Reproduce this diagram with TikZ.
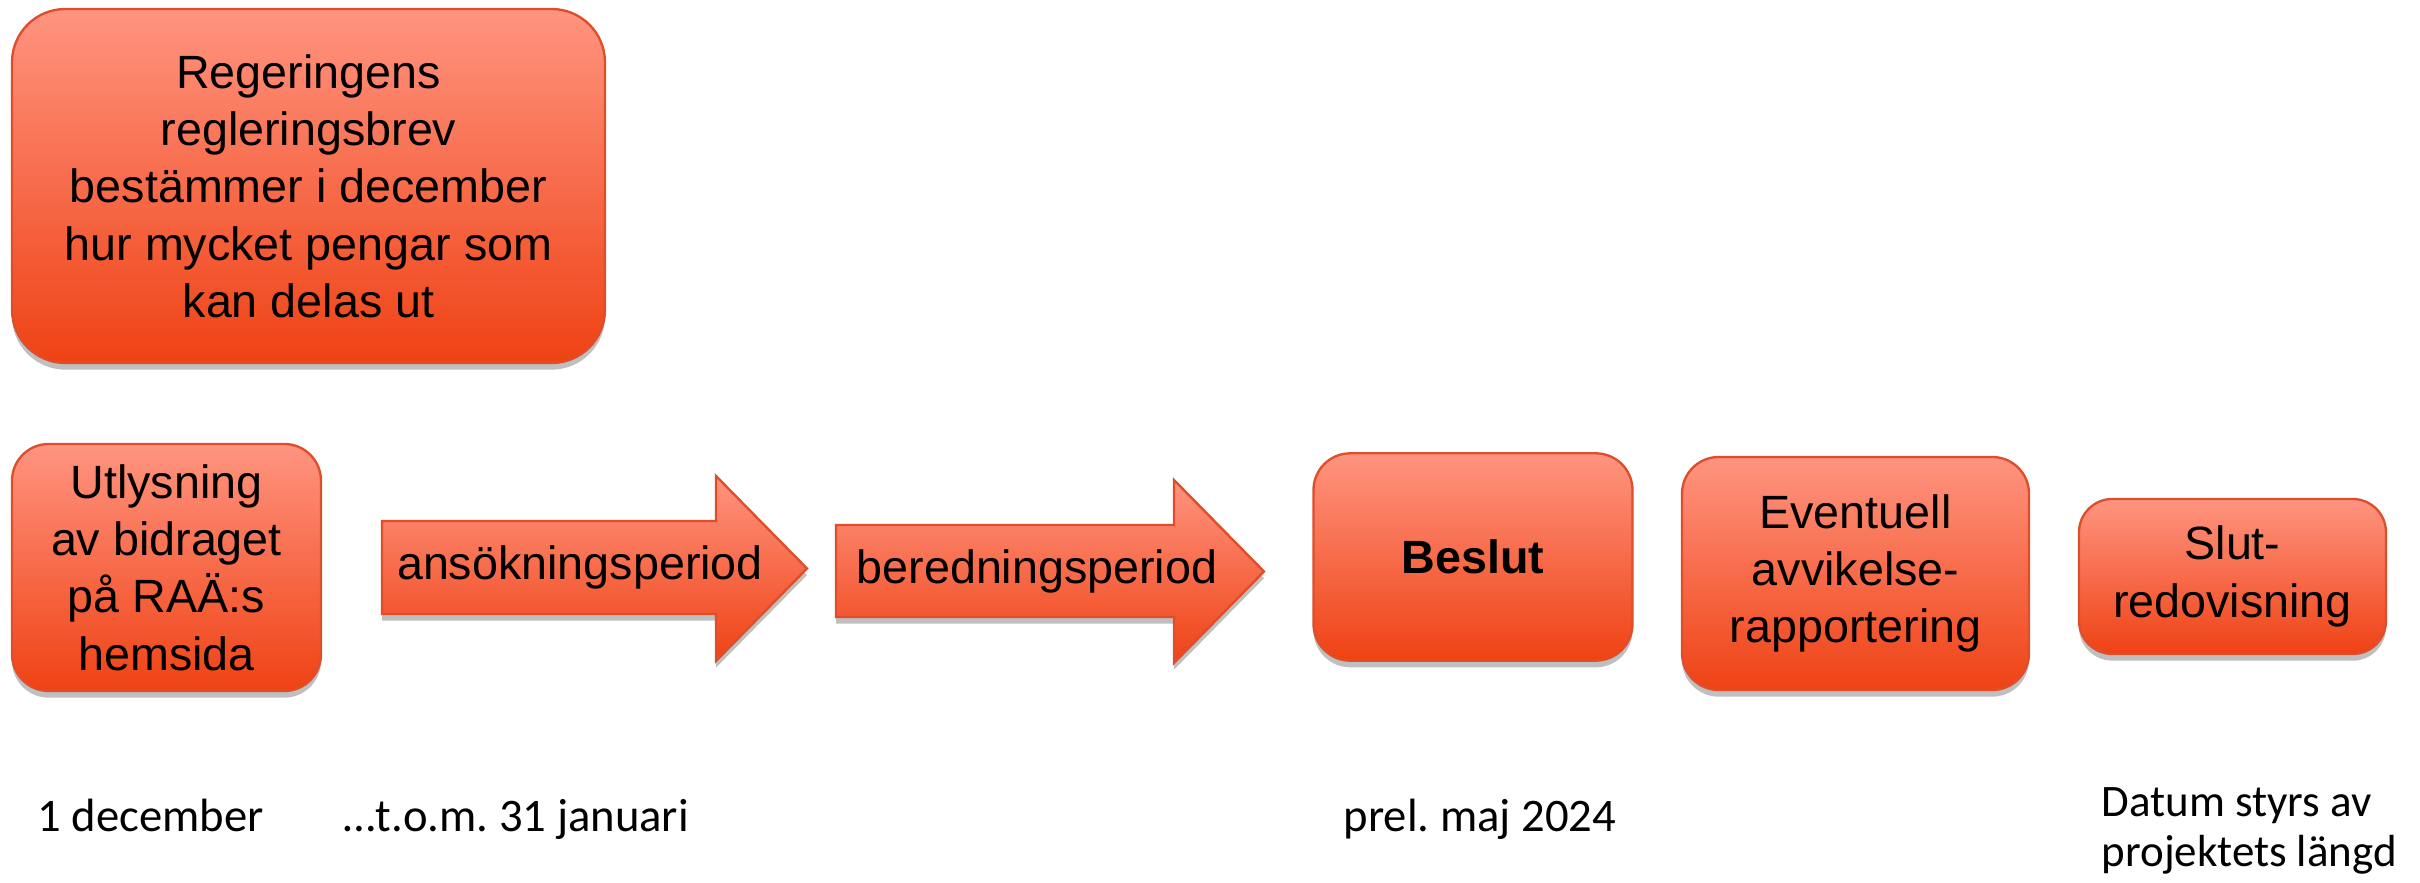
\documentclass[tikz,border=0pt]{standalone}
\usepackage{fontspec}
\setmainfont{Liberation Sans}
\newfontfamily\calib{Carlito}
\usetikzlibrary{shadows}
\definecolor{ctop}{RGB}{255,148,128}
\definecolor{cbot}{RGB}{239,66,20}
\definecolor{cline}{RGB}{222,78,42}
\frenchspacing
\begin{document}
\begin{tikzpicture}[x=0.3pt,y=-0.3pt,
  shadowed/.style={drop shadow={shadow xshift=0pt,shadow yshift=-2pt,opacity=0.25,fill=black}},
  boxstyle/.style={draw=cline,line width=0.7pt,top color=ctop,bottom color=cbot,
    rounded corners=#1,shadowed,align=center,inner sep=0pt,
    font=\fontsize{14}{17.2}\selectfont},
  arrowshape/.style={draw=cline,line width=0.7pt,top color=ctop,bottom color=cbot,shadowed},
  arrowtext/.style={inner sep=0pt,font=\fontsize{14}{17.2}\selectfont},
  datestyle/.style={inner sep=0pt,anchor=base west,font=\calib\fontsize{14}{15}\selectfont},
  notestyle/.style={inner sep=0pt,anchor=base west,font=\calib\fontsize{13.5}{15}\selectfont}
]
\useasboundingbox (0,0) rectangle (2420,883);

% top box
\node[boxstyle=16pt,minimum width=177.9pt,minimum height=106.2pt] (regl) at (308.5,186)
  {Regeringens\\regleringsbrev\\bestämmer i december\\hur mycket pengar som\\kan delas ut};

% bottom row boxes
\node[boxstyle=11pt,minimum width=92.7pt,minimum height=74.1pt] (utl) at (166.5,567.5)
  {Utlysning\\av bidraget\\på RAÄ:s\\hemsida};
\node[boxstyle=11pt,minimum width=95.7pt,minimum height=62.2pt] (beslut) at (1473,557)
  {\bfseries Beslut};
\node[boxstyle=11pt,minimum width=104.1pt,minimum height=69.9pt] (event) at (1855.5,573.5)
  {Eventuell\\avvikelse-\\rapportering};
\node[boxstyle=10pt,minimum width=92.1pt,minimum height=46.5pt] (slut) at (2232.5,576.5)
  {Slut-\\redovisning};

% block arrows
\path[arrowshape] (382,521) -- (716,521) -- (716,476) -- (807,568.5) -- (716,661) -- (716,614) -- (382,614) -- cycle;
\node[arrowtext] (ans) at (580,567) {ansökningsperiod};
\path[arrowshape] (836,525) -- (1174,525) -- (1174,480) -- (1264,571.5) -- (1174,663) -- (1174,617) -- (836,617) -- cycle;
\node[arrowtext] (bered) at (1037,571) {beredningsperiod};

% dates
\node[datestyle] (d1) at (37,832) {1 december};
\node[datestyle] (d2) at (343,832) {…t.o.m. 31 januari};
\node[datestyle] (d3) at (1343,832) {prel. maj 2024};
\node[notestyle] (d4) at (2101,817) {Datum styrs av};
\node[notestyle] (d5) at (2101,867) {projektets längd};
\end{tikzpicture}
\end{document}
